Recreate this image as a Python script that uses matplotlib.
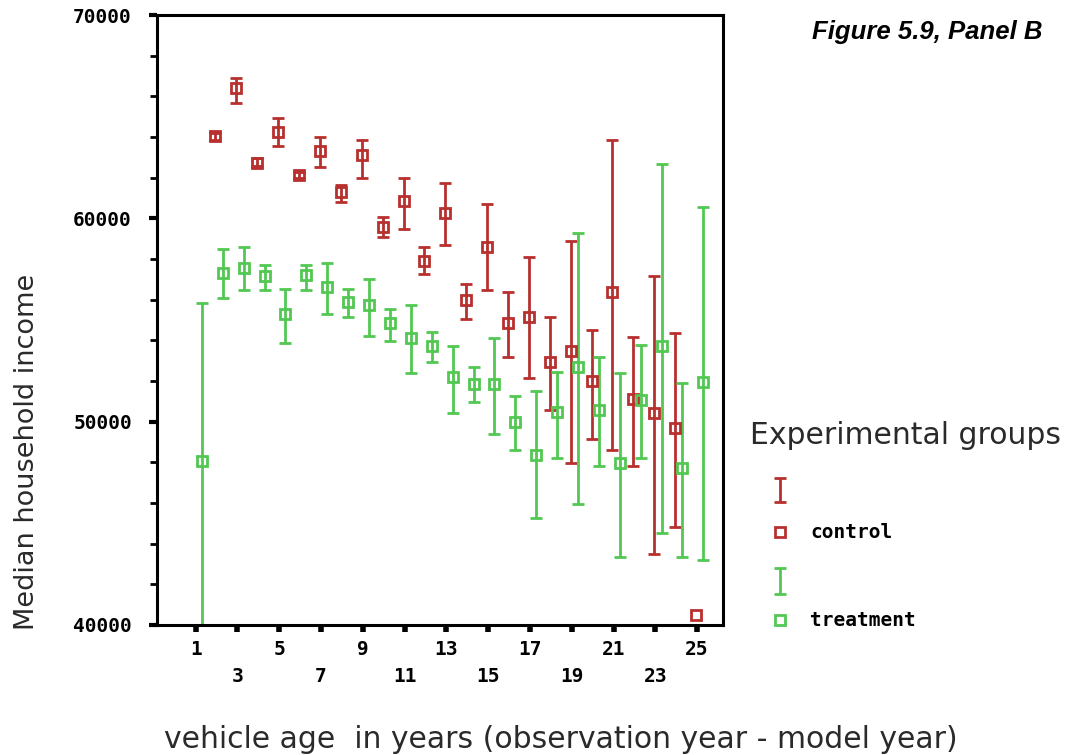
import numpy as np
import matplotlib.pyplot as plt

# median household income by vehicle age, with error bar limits
ages_control = np.arange(2, 26)
control_mean = [64039, 66389, 62744, 64251, 62153, 63315, 61296, 63103, 59571, 60837,
                57882, 60261, 55961, 58586, 54844, 55140, 52956, 53463, 52020, 56369,
                51118, 50429, 49690, 40478]
control_low = [63850, 65680, 62550, 63562, 62000, 62527, 60803, 61985, 59079, 59493,
               57276, 58704, 55025, 56488, 53167, 52153, 50576, 47946, 49147, 48606,
               47798, 43483, 44795, 40478]
control_high = [64200, 66882, 62950, 64941, 62300, 64005, 61626, 63842, 60064, 62005,
                58588, 61741, 56749, 60690, 56369, 58094, 55172, 58867, 54532, 63842,
                54153, 57158, 54369, 40478]

ages_treatment = np.arange(1, 26)
treatment_mean = [48079, 57307, 57553, 57143, 55305, 57227, 56616, 55878, 55714, 54844,
                  54123, 53710, 52183, 51856, 51856, 49966, 48360, 50458, 52709, 50576,
                  47946, 51084, 53744, 47719, 51936]
treatment_low = [39000, 56074, 56453, 56488, 53858, 56453, 55305, 55140, 54236, 53956,
                 52380, 52921, 50429, 50951, 49394, 48606, 45286, 48212, 45975, 47833,
                 43350, 48212, 44517, 43350, 43202]
treatment_high = [55847, 58473, 58588, 57685, 56502, 57719, 57798, 56535, 57029, 55550,
                  55714, 54401, 53744, 52677, 54123, 51247, 51493, 52430, 59276, 53202,
                  52399, 53777, 62660, 51906, 60557]

red = '#b8302e'
green = '#52c852'
pixel_font = 'DejaVu Sans Mono'
label_color = '#2a2a2a'

fig = plt.figure(figsize=(10.73, 7.55), dpi=100)
ax = fig.add_axes([0.1463, 0.1722, 0.5275, 0.8079])


def draw_group(ages, mean, low, high, color, shift):
    x = ages + shift
    mean = np.array(mean)
    low = np.array(low)
    high = np.array(high)
    has_bar = high > low
    # groups with a single vehicle get no error bar
    ax.errorbar(x[has_bar], mean[has_bar],
                yerr=[mean[has_bar] - low[has_bar], high[has_bar] - mean[has_bar]],
                fmt='none', ecolor=color, elinewidth=2.0, capsize=4.5, capthick=2.0)
    ax.plot(x, mean, 's', mfc='none', mec=color, ms=7.5, mew=2.0, zorder=3)


draw_group(ages_control, control_mean, control_low, control_high, red, -0.05)
draw_group(ages_treatment, treatment_mean, treatment_low, treatment_high, green, 0.3)

ax.set_xlim(-0.85, 26.24)
ax.set_ylim(40000, 70000)

for s in ax.spines.values():
    s.set_linewidth(2.2)

ax.set_yticks([40000, 50000, 60000, 70000])
ax.set_yticklabels(['40000', '50000', '60000', '70000'],
                   fontfamily=pixel_font, fontweight='bold', fontsize=14)
ax.set_yticks(np.arange(40000, 70001, 2000), minor=True)
ax.tick_params(axis='y', which='major', length=6, width=3, pad=12)
ax.tick_params(axis='y', which='minor', length=5, width=2)

# odd ages, labels staggered over two rows
top_row = [1, 5, 9, 13, 17, 21, 25]
bottom_row = [3, 7, 11, 15, 19, 23]
ax.set_xticks(top_row)
ax.set_xticklabels([str(v) for v in top_row],
                   fontfamily=pixel_font, fontweight='bold', fontsize=14)
ax.set_xticks(bottom_row, minor=True)
ax.set_xticklabels([str(v) for v in bottom_row], minor=True,
                   fontfamily=pixel_font, fontweight='bold', fontsize=14)
ax.tick_params(axis='x', which='major', length=5, width=4, pad=6)
ax.tick_params(axis='x', which='minor', length=5, width=4, pad=25)

fig.text(0.025, 0.401, 'Median household income', fontsize=19.5, color=label_color,
         rotation=90, ha='center', va='center')
fig.text(0.523, 0.02, 'vehicle age  in years (observation year - model year)',
         fontsize=21.5, color=label_color, ha='center', va='center')

fig.text(0.972, 0.958, 'Figure 5.9, Panel B', fontsize=18.5, fontweight='bold',
         fontstyle='italic', fontfamily='Liberation Sans', ha='right', va='center')

# legend drawn by hand in pixel coordinates
lg = fig.add_axes([0, 0, 1, 1], facecolor='none')
lg.set_xlim(0, 1073)
lg.set_ylim(755, 0)
lg.axis('off')
lg.text(750, 435, 'Experimental groups', fontsize=21.5, color=label_color, va='center')
lg.errorbar([780], [490], yerr=[[12], [12]], fmt='none', ecolor=red,
            elinewidth=2.0, capsize=4.5, capthick=2.0)
lg.plot([780], [532], 's', mfc='none', mec=red, ms=7.5, mew=2.0)
lg.text(810, 532, 'control', fontfamily=pixel_font, fontweight='bold',
        fontsize=14, va='center')
lg.errorbar([780], [581], yerr=[[13], [13]], fmt='none', ecolor=green,
            elinewidth=2.0, capsize=4.5, capthick=2.0)
lg.plot([780], [620], 's', mfc='none', mec=green, ms=7.5, mew=2.0)
lg.text(810, 620, 'treatment', fontfamily=pixel_font, fontweight='bold',
        fontsize=14, va='center')

fig.savefig('out.png', dpi=100)
